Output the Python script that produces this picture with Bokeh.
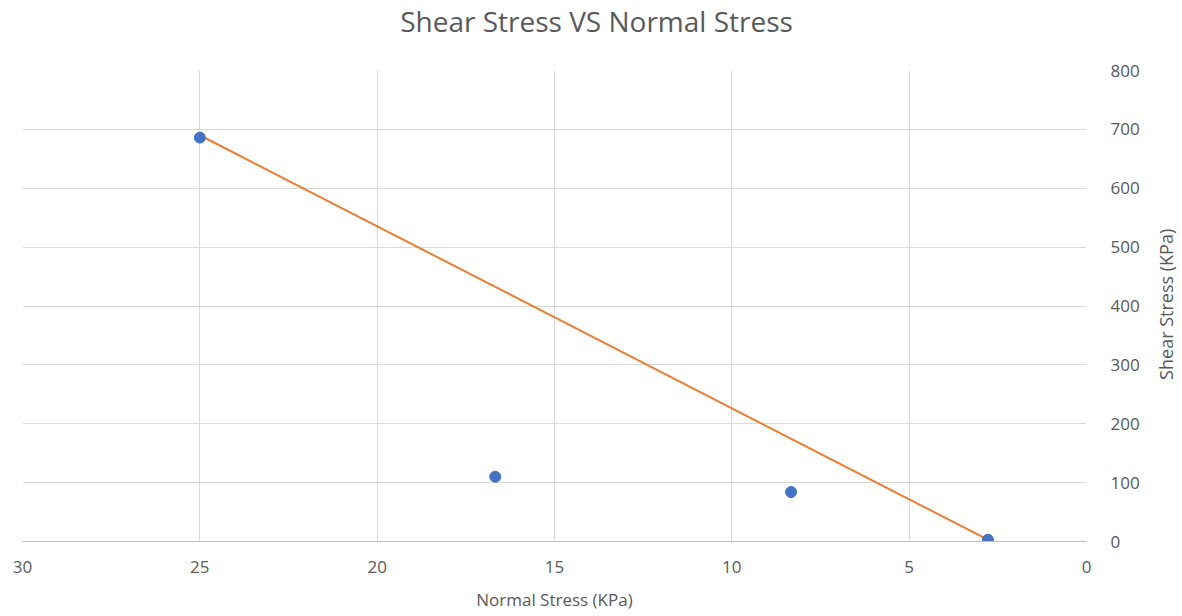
import math
from bokeh.plotting import figure
from bokeh.models import Range1d, FixedTicker, LinearAxis
from bokeh.layouts import column, row
from bokeh.core.properties import value
from bokeh.embed import file_html
from bokeh.resources import INLINE

normal_stress = [25.0, 16.67, 8.33, 2.78]
shear_stress = [686, 110, 84, 3]
trend_x = [25.0, 2.78]
trend_y = [690, 3]
x_ticks = [0, 5, 10, 15, 20, 25, 30]
y_ticks = [0, 100, 200, 300, 400, 500, 600, 700, 800]
chart_title = "Shear Stress VS Normal Stress"
x_title = "Normal Stress (KPa)"
y_title = "Shear Stress (KPa)"

FONT = "Open Sans"
GRAY = "#595959"

W, H = 1182, 616
TOP_H = 50
SIDE_W = 40
MAIN_W = W - SIDE_W
MAIN_H = H - TOP_H


def blank(fig):
    fig.axis.visible = False
    fig.grid.visible = False
    fig.outline_line_color = None
    fig.min_border = 0


# title strip
top = figure(width=W, height=TOP_H, output_backend="svg", toolbar_location=None,
             x_range=Range1d(0, W), y_range=Range1d(0, TOP_H), min_border=0)
blank(top)
top.text(x=[596], y=[TOP_H - 20], text=[chart_title], text_align="center",
         text_baseline="middle", text_font=value(FONT), text_font_size="28px",
         text_color=GRAY)

# main chart
p = figure(width=MAIN_W, height=MAIN_H, output_backend="svg", toolbar_location=None,
           x_range=Range1d(30, 0), y_range=Range1d(0, 800),
           x_axis_location=None, y_axis_location=None,
           min_border_left=22, min_border_right=MAIN_W - 1087,
           min_border_top=70 - TOP_H, min_border_bottom=75)

xa = LinearAxis(ticker=FixedTicker(ticks=x_ticks), axis_label=x_title)
ya = LinearAxis(ticker=FixedTicker(ticks=y_ticks))
for ax in (xa, ya):
    ax.major_tick_line_color = None
    ax.minor_tick_line_color = None
    ax.major_label_text_font = FONT
    ax.major_label_text_font_size = "17px"
    ax.major_label_text_color = GRAY
    ax.axis_label_text_font = FONT
    ax.axis_label_text_font_size = "17px"
    ax.axis_label_text_font_style = "normal"
    ax.axis_label_text_color = GRAY
xa.axis_line_color = "#bfbfbf"
xa.major_label_standoff = 13
xa.axis_label_standoff = 12
ya.axis_line_color = None
ya.major_label_standoff = 18
p.add_layout(xa, "below")
p.add_layout(ya, "right")

p.xgrid.ticker = FixedTicker(ticks=x_ticks)
p.ygrid.ticker = FixedTicker(ticks=y_ticks)
p.xgrid.grid_line_color = "#d9d9d9"
p.ygrid.grid_line_color = "#d9d9d9"
p.outline_line_color = None

p.line(trend_x, trend_y, line_color="#ED7D31", line_width=2)
p.scatter(normal_stress, shear_stress, size=11, fill_color="#4472C4", line_color="#4472C4")

# right-side axis title strip
side = figure(width=SIDE_W, height=MAIN_H, output_backend="svg", toolbar_location=None,
              x_range=Range1d(MAIN_W, W), y_range=Range1d(0, MAIN_H), min_border=0)
blank(side)
side.text(x=[1165], y=[MAIN_H - (305 - TOP_H) - 26], text=[y_title], angle=math.pi / 2,
          text_align="center", text_baseline="middle", text_font=value(FONT),
          text_font_size="18px", text_color=GRAY)

layout = column(top, row(p, side))
open("out.html", "w").write(file_html(layout, INLINE))
